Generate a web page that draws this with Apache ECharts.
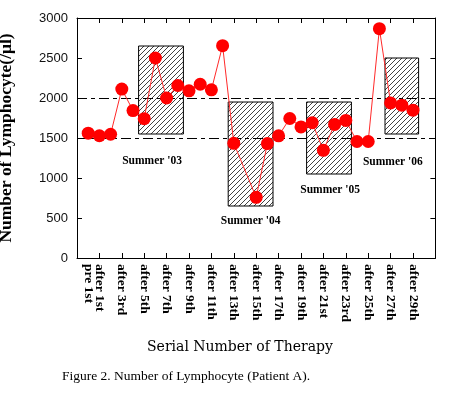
<!DOCTYPE html>
<html><head><meta charset="utf-8">
<script src="https://cdn.jsdelivr.net/npm/echarts@6/dist/echarts.min.js"></script>
<style>html,body{margin:0;padding:0;background:#fff}#c{width:450px;height:396px}</style>
</head><body><div id="c"></div>
<script>
// Therapy sessions (index 0 = pre 1st, index n = after n-th)
var sessionLabels = ['pre 1st','after 1st','after 2nd','after 3rd','after 4th','after 5th','after 6th','after 7th','after 8th','after 9th',
  'after 10th','after 11th','after 12th','after 13th','after 14th','after 15th','after 16th','after 17th','after 18th','after 19th',
  'after 20th','after 21st','after 22nd','after 23rd','after 24th','after 25th','after 26th','after 27th','after 28th','after 29th'];
// Lymphocyte count (/µl); null = not measured
var lymphocyte = [1560,1528,1547,2111,1843,1741,2500,2000,2156,2090,
  2172,2102,2654,1434,null,758,1430,1527,1744,1638,
  1691,1346,1670,1720,1456,1456,2866,1938,1910,1848];
// Summer periods: start/end session index, low/high range
var summerNames = ["Summer '03","Summer '04","Summer '05","Summer '06"];
var summerStart = [4.5, 12.5, 19.5, 26.5];
var summerEnd   = [8.5, 16.5, 23.5, 29.5];
var summerLow   = [1550, 650, 1050, 1550];
var summerHigh  = [2650, 1950, 1950, 2500];
var summerLabelX = [5.7, 14.5, 21.6, 27.2];
var summerLabelY = [1215, 460, 851, 1205];
// Reference levels
var refLevels = [2000, 1500];
var yTicks = {min:0, max:3000, interval:500};

var pat = document.createElement('canvas');
pat.width = 5; pat.height = 5;
var pc = pat.getContext('2d');
pc.fillStyle = '#fff'; pc.fillRect(0,0,5,5);
pc.strokeStyle = '#111'; pc.lineWidth = 0.8;
pc.beginPath();
pc.moveTo(0,5); pc.lineTo(5,0);
pc.moveTo(-1,1); pc.lineTo(1,-1);
pc.moveTo(4,6); pc.lineTo(6,4);
pc.stroke();

var boxData = summerNames.map(function(n,i){
  return [summerStart[i], summerEnd[i], summerLow[i], summerHigh[i], summerLabelX[i], summerLabelY[i], n];
});
var lineData = lymphocyte.map(function(v,i){ return [i, v]; });

var chart = echarts.init(document.getElementById('c'), null, {renderer:'canvas'});
var serif = '"Liberation Serif", "DejaVu Serif", serif';
var gridRect = {left:77, right:14.6, top:18, bottom:138, containLabel:false, outerBoundsMode:'none'};
chart.setOption({
  animation:false,
  backgroundColor:'#fff',
  title:[
    {text:'Serial Number of Therapy', left:147, top:340, padding:0,
     textStyle:{fontFamily:'"DejaVu Serif", serif', fontSize:14, fontWeight:'normal', color:'#000'}},
    {text:'Figure 2. Number of Lymphocyte (Patient A).', left:62, top:369, padding:0,
     textStyle:{fontFamily:'"Liberation Serif", serif', fontSize:13.5, fontWeight:'normal', color:'#000'}}
  ],
  grid:[gridRect, Object.assign({}, gridRect)],
  xAxis:[
    {type:'value', gridIndex:0, position:'bottom', min:-1, max:31, interval:1,
     axisLine:{show:true, onZero:false, lineStyle:{color:'#000', width:1}},
     axisTick:{show:false}, splitLine:{show:false},
     axisLabel:{show:true, rotate:-90, margin:6, fontFamily:serif, fontWeight:'bold', fontSize:13.5, color:'#000',
       showMinLabel:true, showMaxLabel:true,
       formatter:function(v){ if (v===0 || (v>0 && v%2===1 && v<sessionLabels.length)) return sessionLabels[v]; return ''; }}},
    {type:'value', gridIndex:1, position:'bottom', min:-1, max:31, interval:2,
     axisLine:{show:false, onZero:false}, axisTick:{show:true, inside:true, length:5, lineStyle:{color:'#000'}},
     axisLabel:{show:false}, splitLine:{show:false}},
    {type:'value', gridIndex:1, position:'top', min:-1, max:31, interval:2,
     axisLine:{show:true, onZero:false, lineStyle:{color:'#000'}}, axisTick:{show:true, inside:true, length:5, lineStyle:{color:'#000'}},
     axisLabel:{show:false}, splitLine:{show:false}}
  ],
  yAxis:[
    {type:'value', gridIndex:0, position:'left', min:yTicks.min, max:yTicks.max, interval:yTicks.interval,
     axisLine:{show:true, onZero:false, lineStyle:{color:'#000'}}, axisTick:{show:true, inside:true, length:5, lineStyle:{color:'#000'}},
     splitLine:{show:false},
     axisLabel:{margin:9, fontFamily:'"Liberation Sans", Arial, sans-serif', fontSize:13, color:'#111',
       formatter:function(v){ return String(v); }},
     name:'Number of Lymphocyte(/μl)', nameLocation:'middle', nameGap:62,
     nameTextStyle:{fontFamily:serif, fontWeight:'bold', fontSize:17.5, color:'#000'}},
    {type:'value', gridIndex:1, position:'right', min:yTicks.min, max:yTicks.max, interval:yTicks.interval,
     axisLine:{show:true, onZero:false, lineStyle:{color:'#000'}}, axisTick:{show:true, inside:true, length:5, lineStyle:{color:'#000'}},
     axisLabel:{show:false}, splitLine:{show:false}}
  ],
  series:[
    {type:'custom', xAxisIndex:0, yAxisIndex:0, z:1, data:boxData,
     encode:{x:[0,1,4], y:[2,3,5]},
     renderItem:function(params, api){
       var x0=api.value(0), x1=api.value(1), lo=api.value(2), hi=api.value(3);
       var p1=api.coord([x0,hi]), p2=api.coord([x1,lo]);
       var t=api.coord([api.value(4), api.value(5)]);
       return {type:'group', children:[
         {type:'rect', shape:{x:p1[0], y:p1[1], width:p2[0]-p1[0], height:p2[1]-p1[1]},
          style:{fill:{image:pat, repeat:'repeat'}, stroke:'#000', lineWidth:1}},
         {type:'text', x:t[0], y:t[1], style:{text:summerNames[params.dataIndex], fill:'#000',
          font:'bold 11.5px "Liberation Serif", serif', align:'center', verticalAlign:'middle'}}
       ]};
     },
     markLine:{silent:true, symbol:['none','none'], label:{show:false},
       lineStyle:{color:'#000', width:1, type:[10,4,4,4]},
       data:refLevels.map(function(v){ return {yAxis:v}; })}
    },
    {type:'line', xAxisIndex:0, yAxisIndex:0, z:5, data:lineData, connectNulls:true,
     symbol:'circle', symbolSize:13, showAllSymbol:true,
     lineStyle:{color:'#ff2a2a', width:1},
     itemStyle:{color:'#ff0000', borderWidth:0}}
  ]
});
</script></body></html>
